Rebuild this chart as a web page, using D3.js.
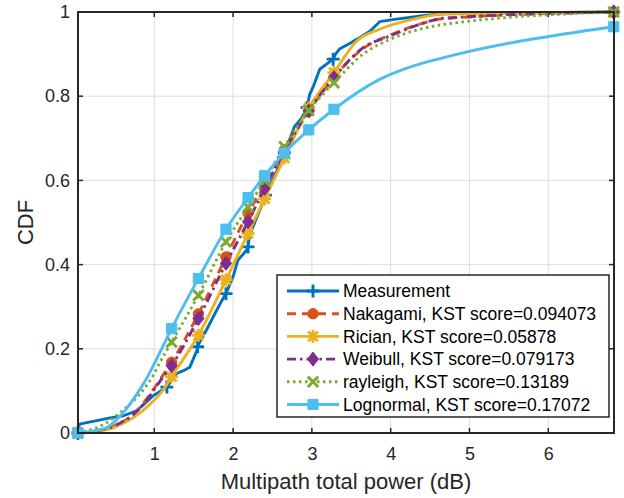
<!DOCTYPE html>
<html><head><meta charset="utf-8">
<script src="https://cdn.jsdelivr.net/npm/d3@7"></script>
<style>
html,body{margin:0;padding:0;background:#fff;}
svg{display:block;font-family:"Liberation Sans",Arial,Helvetica,sans-serif;}
</style></head><body>
<svg id="chart" width="624" height="498"></svg>
<script>
// ---------- data ----------
const xTicks = [1, 2, 3, 4, 5, 6];
const yTicks = [0, 0.2, 0.4, 0.6, 0.8, 1];
const yTickLabels = ["0", "0.2", "0.4", "0.6", "0.8", "1"];
const xLabel = "Multipath total power (dB)";
const yLabel = "CDF";

const seriesNames = ["Measurement", "Nakagami, KST score=0.094073", "Rician, KST score=0.05878",
  "Weibull, KST score=0.079173", "rayleigh, KST score=0.13189", "Lognormal, KST score=0.17072"];

const measX = [0.03,0.05,0.44,0.61,0.78,0.99,1.16,1.28,1.37,1.45,1.54,1.56,1.66,1.79,1.87,1.91,2.0,2.06,2.17,2.19,2.21,2.34,2.43,2.55,2.66,2.78,2.87,2.94,2.97,3.02,3.1,3.27,3.30,3.35,3.48,3.57,3.74,3.86,4.07,4.41,4.66,6.83];
const measY = [0,0.021,0.036,0.041,0.053,0.089,0.109,0.141,0.148,0.156,0.196,0.21,0.244,0.291,0.319,0.331,0.371,0.41,0.434,0.442,0.47,0.53,0.575,0.62,0.668,0.728,0.748,0.773,0.803,0.824,0.864,0.888,0.90,0.912,0.925,0.935,0.955,0.977,0.983,0.991,0.996,1.0];
const measMarkX = [0.03,1.16,1.55,1.91,2.19,2.41,2.65,2.94,3.27,6.83];
const measMarkY = [0,0.109,0.205,0.331,0.442,0.565,0.665,0.773,0.888,1.0];

const fitMarkX = [0.03,1.22,1.56,1.91,2.19,2.40,2.65,2.96,3.28,6.83];

const nakaX = [0.03,0.23,0.49,0.74,0.87,0.95,1.08,1.22,1.56,1.91,2.19,2.40,2.65,2.96,3.28,3.65,3.99,4.37,4.66,6.83];
const nakaY = [0,0.004,0.017,0.045,0.073,0.093,0.129,0.168,0.283,0.418,0.522,0.589,0.672,0.764,0.845,0.913,0.945,0.971,0.984,1.0];
const nakaMarkY = [0,0.168,0.283,0.418,0.522,0.589,0.672,0.764,0.845,1.0];

const ricX = [0.03,0.23,0.49,0.74,0.95,1.12,1.22,1.56,1.91,2.19,2.40,2.65,2.96,3.28,3.57,3.86,4.29,4.66,6.83];
const ricY = [0,0.003,0.013,0.037,0.069,0.104,0.134,0.232,0.364,0.474,0.556,0.653,0.772,0.856,0.931,0.959,0.983,0.995,1.0];
const ricMarkY = [0,0.134,0.232,0.364,0.474,0.556,0.653,0.772,0.856,1.0];

const weiX = [0.03,0.23,0.49,0.74,0.87,0.95,1.08,1.22,1.56,1.91,2.19,2.40,2.65,2.96,3.28,3.65,3.99,4.37,4.66,6.83];
const weiY = [0,0.004,0.017,0.045,0.07,0.09,0.125,0.160,0.272,0.403,0.502,0.581,0.668,0.765,0.844,0.915,0.943,0.971,0.985,1.0];
const weiMarkY = [0,0.160,0.272,0.403,0.502,0.581,0.668,0.765,0.844,1.0];

const rayX = [0.03,0.23,0.40,0.57,0.74,0.87,0.99,1.06,1.22,1.56,1.91,2.19,2.40,2.65,2.96,3.28,3.65,3.99,4.37,4.66,6.83];
const rayY = [0,0.01,0.025,0.049,0.077,0.105,0.138,0.164,0.216,0.327,0.454,0.537,0.60,0.68,0.766,0.832,0.90,0.935,0.959,0.970,1.0];
const rayMarkY = [0,0.216,0.327,0.454,0.537,0.60,0.680,0.766,0.832,1.0];

const logX = [0.03,0.23,0.40,0.53,0.66,0.78,0.91,1.02,1.22,1.56,1.91,2.19,2.40,2.65,2.96,3.28,3.86,4.29,4.66,6.83];
const logY = [0,0.005,0.013,0.033,0.061,0.093,0.132,0.172,0.248,0.367,0.484,0.559,0.611,0.665,0.720,0.769,0.84,0.872,0.891,0.965];
const logMarkY = [0,0.248,0.367,0.484,0.559,0.611,0.665,0.720,0.769,0.965];

// ---------- layout ----------
const L = 78, R = 614, T = 12, B = 433;
const svg = d3.select("#chart");
const x = d3.scaleLinear().domain([0.032, 6.834]).range([L, R]);
const y = d3.scaleLinear().domain([0, 1]).range([B, T]);
const axisColor = "#262626";
const LW_LINE = 2.9;

// grid
const grid = svg.append("g");
grid.selectAll(".gx").data(xTicks).enter().append("line")
  .attr("x1", d => x(d)).attr("x2", d => x(d)).attr("y1", T).attr("y2", B)
  .attr("stroke", "#dedede").attr("stroke-width", 1);
grid.selectAll(".gy").data(yTicks).enter().append("line")
  .attr("y1", d => y(d)).attr("y2", d => y(d)).attr("x1", L).attr("x2", R)
  .attr("stroke", "#dedede").attr("stroke-width", 1);

// axes
const ax = svg.append("g").attr("transform", `translate(0,${B})`)
  .call(d3.axisBottom(x).tickValues(xTicks).tickSize(0).tickPadding(14).tickFormat(d3.format("d")));
const ay = svg.append("g").attr("transform", `translate(${L},0)`)
  .call(d3.axisLeft(y).tickValues(yTicks).tickSize(0).tickPadding(8).tickFormat((d, i) => yTickLabels[i]));
[ax, ay].forEach(g => {
  g.select(".domain").remove();
  g.selectAll("text").attr("font-size", 18).attr("fill", axisColor)
    .attr("font-family", '"Liberation Sans",Arial,sans-serif');
});
ax.selectAll("text").attr("dy", "0.71em");

// inward ticks on all sides
const tk = svg.append("g").attr("stroke", axisColor).attr("stroke-width", 1.5);
xTicks.forEach(v => {
  tk.append("line").attr("x1", x(v)).attr("x2", x(v)).attr("y1", B).attr("y2", B - 5);
  tk.append("line").attr("x1", x(v)).attr("x2", x(v)).attr("y1", T).attr("y2", T + 5);
});
yTicks.forEach(v => {
  tk.append("line").attr("y1", y(v)).attr("y2", y(v)).attr("x1", L).attr("x2", L + 5);
  tk.append("line").attr("y1", y(v)).attr("y2", y(v)).attr("x1", R).attr("x2", R - 5);
});

// labels
svg.append("text").attr("x", (L + R) / 2).attr("y", 489).attr("text-anchor", "middle")
  .attr("font-size", 22).attr("fill", axisColor).text(xLabel);
svg.append("text").attr("transform", `translate(33,${(T + B) / 2}) rotate(-90)`)
  .attr("text-anchor", "middle").attr("font-size", 22).attr("fill", axisColor).text(yLabel);

// ---------- markers ----------
function markerPath(type, s) {
  const h = s / 2;
  switch (type) {
    case "plus": return `M${-h},0L${h},0M0,${-h}L0,${h}`;
    case "x": return `M${-h*0.8},${-h*0.8}L${h*0.8},${h*0.8}M${-h*0.8},${h*0.8}L${h*0.8},${-h*0.8}`;
    case "star": {
      const a = h * 0.75;
      return `M${-h},0L${h},0M0,${-h}L0,${h}M${-a},${-a}L${a},${a}M${-a},${a}L${a},${-a}`;
    }
    case "circle": return d3.symbol(d3.symbolCircle, Math.PI * h * h * 0.9)();
    case "square": return `M${-h*0.85},${-h*0.85}H${h*0.85}V${h*0.85}H${-h*0.85}Z`;
    case "diamond": return `M0,${-h}L${h*0.8},0L0,${h}L${-h*0.8},0Z`;
  }
}
const filled = { circle: true, square: true, diamond: true };

const series = [
  { name: seriesNames[0], xs: measX, ys: measY, mx: measMarkX, my: measMarkY, color: "#0072BD", dash: null, marker: "plus", size: 13, curve: d3.curveLinear },
  { name: seriesNames[1], xs: nakaX, ys: nakaY, mx: fitMarkX, my: nakaMarkY, color: "#D95319", dash: "9,6", marker: "circle", size: 11, curve: d3.curveMonotoneX },
  { name: seriesNames[2], xs: ricX, ys: ricY, mx: fitMarkX, my: ricMarkY, color: "#EDB120", dash: null, marker: "star", size: 13, curve: d3.curveMonotoneX },
  { name: seriesNames[3], xs: weiX, ys: weiY, mx: fitMarkX, my: weiMarkY, color: "#7E2F8E", dash: "9,4,2.5,4", marker: "diamond", size: 14, curve: d3.curveMonotoneX },
  { name: seriesNames[4], xs: rayX, ys: rayY, mx: fitMarkX, my: rayMarkY, color: "#77AC30", dash: "2.5,3.5", marker: "x", size: 13, curve: d3.curveMonotoneX },
  { name: seriesNames[5], xs: logX, ys: logY, mx: fitMarkX, my: logMarkY, color: "#4DBEEE", dash: null, marker: "square", size: 12, curve: d3.curveMonotoneX }
];

const plot = svg.append("g");
series.forEach(s => {
  const pts = s.xs.map((v, i) => [v, s.ys[i]]);
  const line = d3.line().x(d => x(d[0])).y(d => y(d[1])).curve(s.curve);
  plot.append("path").datum(pts).attr("d", line).attr("fill", "none")
    .attr("stroke", s.color).attr("stroke-width", LW_LINE)
    .attr("stroke-dasharray", s.dash).attr("stroke-linejoin", "round");
  const mpts = s.mx.map((v, i) => [v, s.my[i]]);
  plot.selectAll(null).data(mpts).enter().append("path")
    .attr("transform", d => `translate(${x(d[0])},${y(d[1])})`)
    .attr("d", markerPath(s.marker, s.size))
    .attr("fill", filled[s.marker] ? s.color : "none")
    .attr("stroke", s.color).attr("stroke-width", filled[s.marker] ? 1 : LW_LINE);
});

// axes box
svg.append("rect").attr("x", L).attr("y", T).attr("width", R - L).attr("height", B - T)
  .attr("fill", "none").attr("stroke", axisColor).attr("stroke-width", 2);

// ---------- legend ----------
const lg = svg.append("g");
const LX0 = 277, LY0 = 275, LW = 332, LH = 142;
lg.append("rect").attr("x", LX0).attr("y", LY0).attr("width", LW).attr("height", LH)
  .attr("fill", "#fff").attr("stroke", axisColor).attr("stroke-width", 1.5);
series.forEach((s, i) => {
  const cy = 291 + i * 22.7;
  lg.append("line").attr("x1", 287).attr("x2", 339).attr("y1", cy).attr("y2", cy)
    .attr("stroke", s.color).attr("stroke-width", LW_LINE).attr("stroke-dasharray", s.dash);
  lg.append("path").attr("transform", `translate(313,${cy})`).attr("d", markerPath(s.marker, s.size))
    .attr("fill", filled[s.marker] ? s.color : "none")
    .attr("stroke", s.color).attr("stroke-width", filled[s.marker] ? 1 : LW_LINE);
  lg.append("text").attr("x", 343).attr("y", cy).attr("dy", "0.35em")
    .attr("font-size", 17.5).attr("fill", "#000").text(s.name);
});
</script>
</body></html>
